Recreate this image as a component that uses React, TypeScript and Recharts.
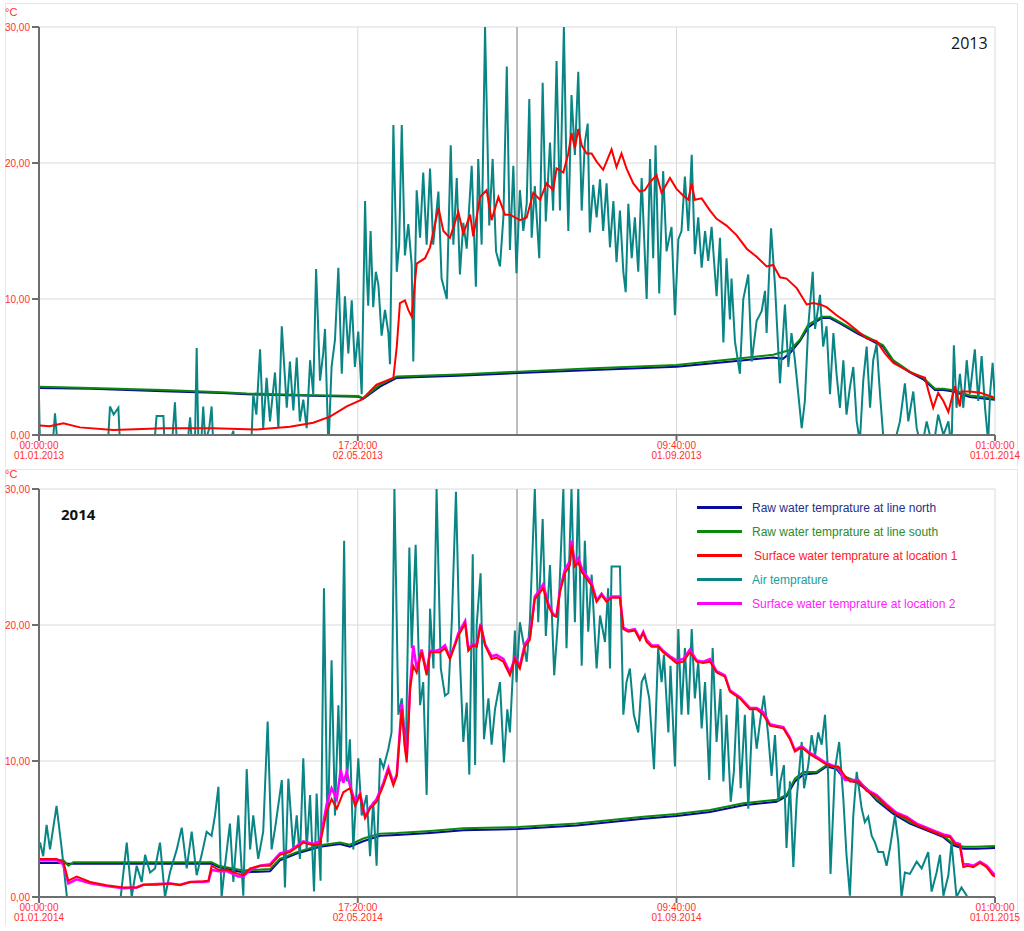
import React from "react";
import { LineChart, Line, XAxis, YAxis, CartesianGrid, ReferenceLine } from "recharts";

// ---- axes ----
const X_TICKS = [0, 121.72, 243.4, 365];
const MID_GRID = 182.5;
const Y_TICKS = [0, 10, 20, 30];
const xLabels2013 = [["00:00:00", "01.01.2013"], ["17:20:00", "02.05.2013"], ["09:40:00", "01.09.2013"], ["01:00:00", "01.01.2014"]];
const xLabels2014 = [["00:00:00", "01.01.2014"], ["17:20:00", "02.05.2014"], ["09:40:00", "01.09.2014"], ["01:00:00", "01.01.2015"]];

// ---- series names / colours ----
const seriesNames = [
  "Raw water temprature at line north",
  "Raw water temprature at line south",
  "Surface water temprature at location 1",
  "Air temprature",
  "Surface water temprature at location 2",
];

// ---- 2013 data: [day of year, °C] ----
const air2013 = [
  [0, 2.8], [0.4, -1], [3, -3], [5.5, 0], [6.1, 1.6], [6.8, 0], [8, -3], [12, -5], [18, -4], [24, -2], [26.5, 0], [27.1, 2.1], [28.5, 1.5], [30.3, 2.0], [31, -1], [36, -3], [40, -2], [44.3, 0], [44.9, 1.4], [47.5, 1.4], [48, -1], [51, 0], [51.9, 2.4], [52.6, -0.5], [55, -2], [57, 0], [57.7, 1.3], [58.5, -1], [59.6, 0], [60.2, 6.4], [60.9, -1], [62.1, 0], [62.7, 2.1], [63.5, -0.5], [65, 0.5], [65.9, 2.1], [66.6, -1], [70, -2], [74.2, 0.3], [75, -2], [79, -1], [81.2, 0], [81.8, 3], [83, 1.5], [84.4, 6.3], [85.6, 0.5], [86.9, 4.2], [88.2, 1], [90.1, 4.6], [91.4, 0.5], [92.7, 8], [94.6, 2], [95.8, 5.4], [97.1, 1.8], [98.4, 5.7], [99.6, 1], [100.9, 2.6], [102.2, 0.5], [103.5, 5.5], [104.7, 3], [105.8, 12.2], [107.3, 4], [108.5, 6], [109.2, 7.8], [110.5, -1], [111.7, 5], [113, 7], [114.3, 12.3], [115.6, 4.5], [116.8, 10.2], [118.1, 6], [119.4, 9.9], [120.6, 5], [121.9, 7.6], [123.2, 3], [124.5, 17.2], [125.1, 12], [125.7, 9.5], [126.6, 15], [127.6, 9.4], [128.6, 12], [129.6, 11], [130.8, 7.3], [132.1, 9.2], [133.4, 7.5], [134, 5.2], [135.3, 22.8], [136.6, 12], [137.5, 14], [138.5, 22.8], [139.7, 13.2], [141, 15.5], [142.3, 12.5], [142.9, 5.4], [144.2, 18], [145.5, 14.5], [146.7, 19.3], [148, 14], [149.3, 19.6], [150.5, 14], [152.5, 17.9], [153.7, 11.5], [155.7, 10], [157.2, 21.3], [158.2, 14], [159.5, 18.9], [160.7, 11.8], [162, 15.6], [163.3, 13.7], [165.2, 19.8], [166.8, 10.9], [167.7, 20.3], [169, 14], [170.3, 30], [171.9, 15.4], [173.2, 20.3], [174.5, 13.5], [176, 12.4], [177.3, 16], [178.6, 27.1], [179.8, 13.6], [181.1, 19.8], [182.3, 11.9], [183.6, 18], [184.9, 15], [186.2, 17], [187.2, 24.7], [188.1, 14.5], [189.3, 18.3], [191, 13], [192.3, 25.9], [193.5, 15.7], [195.1, 21.5], [196.3, 16.5], [197.6, 27.5], [198.9, 16.5], [199.5, 22], [200.4, 30], [201.2, 21.5], [202.1, 15], [203.3, 25], [204.6, 20.6], [205.9, 26.7], [207.2, 16.5], [208.4, 21.5], [209.5, 22.9], [210.3, 14.9], [211.6, 18.4], [212.9, 16], [214.2, 18.8], [215.4, 15], [216.7, 18.5], [218, 13.8], [219.3, 17.2], [220.5, 12.7], [221.8, 16.5], [223.1, 12], [224, 10.5], [225, 17], [226.3, 13], [227.5, 16], [228.8, 12], [230.1, 18.9], [232, 10], [233.3, 20.3], [234.5, 13], [235.4, 21.3], [236.8, 10.4], [238.3, 19.4], [239.6, 13.5], [241.5, 15.3], [242.8, 8.8], [244.1, 14.4], [245.3, 15], [246.6, 19], [247.9, 15], [249.2, 20.6], [250.4, 13.3], [251.7, 16], [253, 12.3], [254.3, 15], [255.5, 12.8], [256.8, 15.3], [258.7, 10.2], [260, 14.5], [261.3, 6.8], [262.5, 13], [263.8, 8.5], [264.4, 11.5], [265.7, 6.9], [267.6, 4.5], [268.9, 10], [270.8, 11.8], [272.1, 5.4], [274, 8.4], [275.9, 9.1], [277.2, 10.6], [277.8, 7.5], [279.5, 15.2], [281, 11], [282.9, 3.8], [284.8, 9.6], [286.1, 5], [287.3, 7.5], [288.6, 5.5], [289.9, 3], [291.2, 0.5], [292.4, 2.5], [293.7, 8], [295.4, 12], [296.3, 7.8], [298.2, 10.3], [299.4, 6.5], [300.7, 8], [302, 3], [303.3, 7.5], [304.5, 4.5], [305.8, 2], [307.1, 5.5], [308.3, 1.5], [309.6, 3.5], [310.9, 5], [312.2, 1], [313.4, -0.5], [314.7, 4], [316, 6.5], [317.3, 2], [318.5, 5.5], [319.8, 6.7], [321.1, 3], [322.3, 0], [323.6, -1], [326, -2], [327.4, 0], [328.7, 1], [330.6, 3.8], [331.9, 1], [333.8, 3.2], [335.1, 0.5], [337, -1], [338.9, 1], [341.4, -1], [343.3, 1.5], [345.3, 0], [347.2, 1], [348.4, -1], [349.3, 6.6], [350.3, 2], [351.6, 4.5], [352.9, 2], [354.2, 5.5], [355.4, 3], [357.3, 6.3], [358.6, 2.5], [359.9, 5.8], [361.2, 2], [362.4, -0.5], [363.1, 3], [364.1, 5.3], [365, 2.5],
];
const surf1_2013 = [
  [0, 0.7], [0.4, 0.7], [4, 0.65], [9.3, 0.86], [15.6, 0.56], [28.4, 0.37], [47.5, 0.5], [66.6, 0.5], [83.1, 0.4], [95.8, 0.6], [104.7, 0.9], [111.1, 1.35], [117.5, 2.1], [123.2, 2.6], [128.9, 3.7], [135.3, 4.2], [136.6, 6.5], [137.8, 9.7], [139.7, 9.9], [141, 9.2], [142.3, 8.7], [144.2, 12.6], [147.4, 13], [149.3, 13.8], [152.5, 16.7], [154.4, 15], [156.9, 14.5], [160.1, 16.4], [162, 14.8], [164.6, 16.2], [165.8, 14.6], [168.4, 17.5], [170.9, 18], [172.8, 15.8], [175.4, 17.5], [177.9, 16.2], [179.8, 16.2], [183.6, 15.8], [186.2, 16], [188.7, 17.8], [191.3, 17.3], [193.8, 18.5], [196.3, 18], [197.6, 19.6], [200.2, 19.3], [202.1, 20.7], [203.3, 22.2], [204.6, 21.1], [205.9, 22.5], [207.2, 21.3], [209.1, 20.7], [211, 20.7], [212.9, 20.1], [215.4, 19.5], [218.6, 21], [220.5, 19.7], [222.4, 20.7], [224.3, 19.6], [226.9, 18.5], [229.4, 17.9], [231.3, 18], [233.3, 18.6], [235.8, 19.1], [237.7, 17.8], [240.9, 18.9], [243.4, 18.1], [246, 17.6], [247.9, 17.3], [249.2, 18.5], [250.4, 17.3], [253, 17.4], [256.2, 16.5], [258.7, 15.9], [262.5, 15.4], [266.3, 14.7], [270.2, 13.7], [274, 13.1], [277.8, 12.4], [280.3, 12.5], [282.9, 11.6], [285.4, 11.5], [289.3, 10.8], [293.1, 9.6], [295.6, 9.7], [298.2, 9.6], [300.7, 9.4], [304.5, 8.8], [308.3, 8.3], [312.2, 7.7], [316, 7.1], [319.8, 6.9], [323, 6], [326.2, 5.3], [330, 4.9], [333.8, 4.5], [338.3, 4.2], [339.5, 3.3], [341.4, 2], [343.3, 3.1], [345.3, 2.5], [347.2, 1.7], [349.7, 3.6], [351.6, 2.1], [352.2, 3.2], [355.4, 3.2], [359.3, 3.1], [364.1, 2.8], [365, 2.7],
];
const south2013 = [
  [0, 3.55], [20, 3.45], [47.5, 3.3], [70, 3.15], [79.3, 3.06], [100, 2.95], [121.9, 2.87], [123.8, 2.7], [130.2, 3.7], [136.6, 4.3], [142.9, 4.34], [160, 4.45], [183, 4.66], [211.6, 4.9], [243.4, 5.15], [266.3, 5.6], [280.3, 5.9], [286.7, 6.25], [290.5, 7], [293.7, 8.1], [298.8, 8.7], [302, 8.7], [305.8, 8.3], [312.2, 7.6], [317.3, 7.1], [322.3, 6.6], [326.2, 5.5], [332.5, 4.66], [337.6, 4.2], [342.1, 3.4], [345.3, 3.4], [349.1, 3.3], [355.4, 2.9], [365, 2.7],
];
const north2013 = [
  [0, 3.45], [20, 3.4], [47.5, 3.22], [70, 3.08], [79.3, 3.0], [100, 2.9], [121.9, 2.82], [123.8, 2.65], [130.2, 3.55], [136.6, 4.2], [142.9, 4.25], [160, 4.35], [183, 4.55], [211.6, 4.78], [243.4, 5.02], [266.3, 5.45], [280.3, 5.7], [284, 5.6], [286.7, 6.0], [290.5, 6.9], [293.7, 7.9], [298.8, 8.6], [302, 8.6], [305.8, 8.2], [312.2, 7.5], [317.3, 7.0], [322.3, 6.5], [326.2, 5.4], [332.5, 4.6], [337.6, 4.1], [342.1, 3.3], [345.3, 3.3], [349.1, 3.2], [355.4, 2.8], [365, 2.6],
];

// ---- 2014 data: [day of year, °C] ----
const air2014 = [
  [0, 3.5], [0.4, 4], [1.6, 3], [2.9, 5.3], [4.2, 3.5], [6.7, 6.7], [8.7, 3.5], [10.6, 0.1], [13.1, -1], [19.5, -2], [25.8, -1], [30.9, -0.5], [33.5, 4], [35.4, 0], [37.3, 2.3], [39.2, 1.1], [40.5, 3.1], [42.4, 1.8], [44.3, 2.1], [46.2, 4], [48.1, 0], [50, 1.8], [52.6, 3.5], [54.5, 5.1], [56.4, 2.1], [58.3, 4.8], [60.2, 1.6], [62.1, 3.1], [64, 4.8], [65.9, 4.5], [67.2, 6], [68.5, 8.1], [69.7, 0], [71, 2.3], [72.9, 5.4], [74.2, 1.1], [76.1, 6], [78, 0.1], [79.3, 9.4], [80.6, 3.5], [81.8, 6], [83.7, 2.8], [85.6, 4.8], [87.3, 12.9], [88.8, 3.5], [90.1, 5], [92.7, 8.6], [93.9, 0.7], [95.2, 8.7], [97.1, 3.5], [98.4, 6], [99.6, 2.8], [100.9, 10.2], [102.2, 3.5], [103.5, 7.5], [105, 0.4], [106, 7.6], [107.5, 1.2], [108.8, 22.7], [110.2, 4], [111.7, 17.4], [113, 6], [114.3, 14.1], [115.2, 8.5], [116.5, 26.2], [117.5, 8.5], [118.7, 11.6], [120, 3.5], [121.9, 10.2], [123.2, 6], [125.1, 7.5], [126.4, 3], [127.6, 7], [128.9, 2.3], [130.2, 10.2], [131.5, 9.5], [133.4, 10.9], [134.6, 12.1], [135.7, 30], [137.2, 13.4], [138.5, 14.6], [140.1, 10.9], [141.4, 25.7], [142.3, 18.3], [143.8, 25.9], [145.5, 14.1], [146.7, 15.8], [148, 7.5], [149.3, 21.2], [150.6, 16.8], [151.8, 30], [153.4, 16.8], [155, 14.8], [156.3, 15], [157.6, 20.2], [159.2, 29.8], [160.7, 17.5], [162, 11.4], [163.3, 14.3], [164.3, 9], [165.6, 25.2], [166.5, 9.7], [167.1, 20], [168.6, 23.8], [169.9, 11.6], [171.6, 14.6], [172.8, 11.2], [174.1, 13.8], [176, 15.8], [177.5, 9.9], [178.8, 13.8], [179.8, 12.1], [181.7, 19.6], [182.3, 15.8], [183.6, 20.2], [184.9, 18.75], [186.2, 17.3], [187.4, 20.2], [189.3, 30], [190.6, 20.2], [192.3, 27.8], [193.5, 19.2], [195.1, 24.4], [196.7, 16.3], [198.3, 20.7], [200.2, 30], [201.4, 18.3], [203.3, 30], [204.6, 20.2], [205.9, 30], [207.2, 17], [208.4, 26.2], [209.7, 19.5], [211, 23.7], [212.9, 16.8], [214.2, 20.7], [216.1, 18.75], [217.3, 22.7], [218, 16.8], [218.6, 24.3], [221.8, 24.3], [223.1, 13.4], [224.3, 15.8], [225.6, 16.8], [227.1, 13.4], [228.8, 12.1], [230.1, 15.8], [231.3, 16.3], [233, 14.6], [234.8, 9.4], [236.4, 18.3], [237.7, 15.8], [238.6, 17.8], [240.3, 12.1], [241.1, 17], [242.8, 9.6], [244.1, 19.7], [245.3, 13.4], [246.6, 18.3], [247.9, 13.4], [249.2, 19.7], [250.4, 14.6], [251.7, 17.3], [253, 12.4], [254.3, 15.8], [255.9, 8.6], [257.2, 18.3], [258.7, 11.4], [260.2, 15.3], [261.3, 8.5], [262.5, 13.4], [264.1, 7], [265.3, 9.2], [266.6, 14.8], [267.9, 8], [269.5, 13.4], [270.8, 6.5], [272.5, 13.8], [274, 10.9], [275.3, 12.9], [276.8, 14.8], [278.4, 11.9], [279.7, 8.9], [281, 11.9], [282.3, 7], [283.1, 8.5], [284.4, 9.7], [285.4, 3.6], [286.7, 8.5], [288, 2.2], [289.3, 7.2], [291.2, 11.4], [292.1, 8], [293.7, 9.7], [295, 11.9], [296.3, 10.4], [297.5, 12.1], [298.8, 11.2], [300.1, 13.4], [301.3, 8.9], [302.2, 1.7], [303.9, 9.4], [305.5, 11.4], [307.1, 7.2], [308.3, 3.1], [309.6, 0.1], [310.9, 6], [312.2, 9.2], [314.1, 6.5], [315.3, 5.5], [316.6, 5.9], [317.9, 4.5], [319.2, 4], [320.4, 3.3], [322.3, 3.3], [323.6, 2.3], [324.9, 3.6], [326.8, 6], [328.1, 4], [329.3, 0], [330.6, 1.8], [332.5, 1.7], [335.1, 2.6], [337, 2.1], [339.5, 3.3], [340.8, 0.4], [342.7, 1.8], [344, 3.1], [345.3, 0.1], [347.2, 1.6], [348.4, 4], [350.3, 0], [352.2, 0.7], [354.2, 0.1], [356.1, -1], [364.1, -2], [365, -2],
];
const surf1_2014 = [
  [0, 2.8], [0.4, 2.8], [6.7, 2.8], [9.3, 2.6], [11.2, 1.2], [14.4, 1.5], [19.5, 1.1], [25.8, 0.86], [32.2, 0.7], [37.3, 0.7], [39.8, 0.9], [44.9, 0.9], [50, 1], [53.8, 0.86], [57.7, 1.1], [62.7, 1.15], [64.7, 1.2], [65.9, 2.3], [68.5, 2], [71.7, 2], [76.1, 1.7], [78, 1.6], [80.6, 2.1], [84.4, 2.3], [88.2, 2.3], [92, 3.1], [95.8, 3.3], [100.9, 4], [104.7, 3.8], [107.3, 3.9], [109.8, 6.25], [111.7, 7.2], [113.7, 6.5], [116.2, 7.7], [118.7, 8], [120.7, 6.7], [122.6, 7.5], [124.5, 5.8], [126.4, 6.5], [128.9, 7], [131.5, 8.2], [133.4, 9.3], [135.3, 8.2], [136.6, 8.9], [138.5, 13.8], [139.7, 10.9], [140.4, 9.9], [141.7, 15.3], [142.9, 17], [144.2, 16.5], [146.1, 18], [148, 16.3], [149.3, 18], [151.2, 18], [153.1, 18], [155, 18.3], [156.9, 17.5], [158.8, 18.5], [160.1, 19.2], [162.7, 20.1], [163.9, 18.1], [165.8, 18.5], [167.1, 18.4], [168.6, 20], [170.3, 18.5], [172.8, 17.5], [174.7, 17.6], [177.3, 17.3], [179.8, 16.3], [181.7, 17.5], [183.6, 16.8], [185.5, 18.4], [187.4, 18.9], [189.3, 21.9], [191.3, 22.4], [192.5, 22.7], [194.4, 21.4], [196.3, 20.7], [197.6, 20.6], [198.9, 22.4], [200.8, 23.8], [202.7, 24.4], [203.3, 25.9], [204.6, 24.3], [205.9, 24.6], [207.2, 23.9], [209.1, 23.4], [211, 22.9], [212.9, 21.7], [214.8, 22.2], [216.7, 21.7], [218.6, 22], [221.8, 22], [223.1, 19.7], [225, 19.5], [227.5, 19.6], [229.4, 18.9], [230.7, 19.4], [232, 18.75], [233.9, 18.4], [236.4, 18.4], [238.3, 18], [240.9, 17.6], [243.4, 17.2], [246, 17.3], [248.5, 18], [251.1, 17.3], [253.6, 17.2], [256.2, 17.3], [258.7, 16.5], [261.9, 16.2], [263.8, 15.1], [267.6, 14.6], [271.4, 13.8], [274, 13.8], [276.5, 13.4], [279.1, 12.6], [281.6, 12.5], [284.2, 12.4], [286.7, 11.6], [288.6, 10.7], [291.2, 11], [294.3, 10.5], [296.9, 10.2], [300.1, 9.8], [302.6, 9.6], [305.2, 9.6], [307.7, 8.9], [309.6, 8.5], [312.8, 8.5], [316, 7.8], [319.8, 7.4], [323.6, 6.7], [327.4, 6.1], [331.3, 5.8], [335.1, 5.3], [338.9, 5], [341.4, 4.8], [345.3, 4.5], [347.8, 4.4], [349.7, 3.9], [351.6, 3.8], [352.9, 2.2], [354.8, 2.3], [356.7, 2.2], [359.3, 2.5], [361.8, 2.2], [364.1, 1.6], [365, 1.5],
];
const surf2_2014 = [
  [0, 2.7], [0.4, 2.7], [6.7, 2.7], [9.3, 2.4], [11.2, 1.0], [14.4, 1.3], [19.5, 1.0], [25.8, 0.8], [32.2, 0.65], [37.3, 0.7], [39.8, 0.9], [44.9, 0.95], [50, 1.0], [53.8, 0.9], [57.7, 1.1], [62.7, 1.1], [64.7, 1.15], [65.9, 2.0], [68.5, 1.9], [71.7, 1.9], [76.1, 1.5], [78, 1.5], [80.6, 2.0], [84.4, 2.3], [88.2, 2.4], [92, 3.2], [95.8, 3.4], [100.9, 4.1], [104.7, 3.9], [107.3, 4.1], [109.8, 6.8], [111.7, 8.0], [113.7, 7.2], [115.2, 9.4], [116.2, 8.4], [117.5, 9.2], [118.7, 8.2], [120.7, 7.0], [122.6, 7.6], [124.5, 5.9], [126.4, 6.6], [128.9, 7.2], [131.5, 8.4], [133.4, 9.5], [135.3, 8.4], [136.6, 9.0], [138.5, 14.2], [139.7, 11.2], [140.4, 10.3], [141.7, 15.6], [142.9, 18.5], [144.2, 16.8], [146.1, 18.2], [148, 16.5], [149.3, 18.1], [151.2, 18.1], [153.1, 18.2], [155, 18.5], [156.9, 17.6], [158.8, 18.6], [160.1, 19.4], [162.7, 20.3], [163.9, 18.3], [165.8, 18.6], [167.1, 18.5], [168.6, 20.1], [170.3, 18.6], [172.8, 17.7], [174.7, 17.8], [177.3, 17.5], [179.8, 16.5], [181.7, 17.6], [183.6, 17], [185.5, 18.6], [187.4, 19.1], [189.3, 22.1], [191.3, 22.6], [192.5, 23], [194.4, 21.6], [196.3, 20.8], [197.6, 20.7], [198.9, 22.6], [200.8, 24.1], [202.7, 24.7], [203.3, 26.2], [204.6, 24.5], [205.9, 24.9], [207.2, 24.2], [209.1, 23.6], [211, 23.1], [212.9, 21.8], [214.8, 22.3], [216.7, 21.8], [218.6, 22.1], [221.8, 22.1], [223.1, 19.8], [225, 19.6], [227.5, 19.7], [229.4, 19], [230.7, 19.5], [232, 18.9], [233.9, 18.5], [236.4, 18.5], [238.3, 18.1], [240.9, 17.7], [243.4, 17.4], [246, 17.5], [248.5, 18.2], [251.1, 17.4], [253.6, 17.3], [256.2, 17.5], [258.7, 16.6], [261.9, 16.3], [263.8, 15.2], [267.6, 14.7], [271.4, 13.9], [274, 13.9], [276.5, 13.6], [279.1, 12.7], [281.6, 12.6], [284.2, 12.5], [286.7, 11.7], [288.6, 10.8], [291.2, 11.1], [294.3, 10.6], [296.9, 10.3], [300.1, 9.9], [302.6, 9.7], [305.2, 9.5], [307.7, 8.6], [309.6, 8.6], [312.8, 8.6], [316, 7.9], [319.8, 7.5], [323.6, 6.8], [327.4, 6.2], [331.3, 5.9], [335.1, 5.4], [338.9, 5.1], [341.4, 4.9], [345.3, 4.6], [347.8, 4.5], [349.7, 4], [351.6, 3.9], [352.9, 2.4], [354.8, 2.4], [356.7, 2.3], [359.3, 2.6], [361.8, 2.3], [364.1, 1.8], [365, 1.6],
];
const south2014 = [
  [0, 2.7], [9.3, 2.7], [11.2, 2.3], [13.1, 2.55], [65.9, 2.55], [68.5, 2.3], [78, 1.95], [88.2, 2.05], [92, 2.8], [98.4, 3.3], [107.3, 3.8], [114.9, 4], [118.7, 3.85], [123.8, 4.3], [130.2, 4.66], [136.6, 4.7], [149.3, 4.85], [162, 5.05], [183, 5.15], [205.3, 5.4], [230.7, 5.9], [243.4, 6.1], [256.2, 6.4], [268.9, 6.9], [281.6, 7.15], [285.4, 7.5], [288.6, 8.7], [291.8, 9.2], [296.9, 9.2], [300.7, 9.7], [304.5, 9.5], [307.1, 8.9], [312.2, 8.5], [316, 8], [319.8, 7.2], [326.2, 6.25], [332.5, 5.5], [338.9, 5], [345.3, 4.5], [349.1, 3.9], [353, 3.7], [358, 3.7], [365, 3.75],
];
const north2014 = [
  [0, 2.5], [9.3, 2.5], [11.2, 2.45], [13.1, 2.45], [65.9, 2.45], [68.5, 2.2], [78, 1.8], [88.2, 1.9], [92, 2.7], [98.4, 3.2], [107.3, 3.7], [114.9, 3.9], [118.7, 3.7], [123.8, 4.1], [130.2, 4.5], [136.6, 4.55], [149.3, 4.7], [162, 4.9], [183, 5.0], [205.3, 5.25], [230.7, 5.75], [243.4, 5.95], [256.2, 6.25], [268.9, 6.75], [281.6, 7.0], [285.4, 7.4], [288.6, 8.5], [291.8, 9.0], [296.9, 9.1], [300.7, 9.6], [304.5, 9.4], [307.1, 8.8], [312.2, 8.4], [316, 7.9], [319.8, 7.1], [326.2, 6.1], [332.5, 5.4], [338.9, 4.9], [345.3, 4.4], [349.1, 3.8], [353, 3.55], [358, 3.55], [365, 3.6],
];

const LINE_COLORS = ["#0a0a9a", "#0a8a0a", "#ff0000", "#0a8585", "#ff00ff"];
const TEXT_COLORS = ["#22308c", "#2a8c2a", "#ff2222", "#16a0a0", "#ff22ff"];
const AXIS_RED = "#ff3030";
const AXIS_GRAY = "#6e6e6e";
const FONT = "'Liberation Sans', Arial, sans-serif";

const toPts = (a: number[][]) => a.map(([d, v]) => ({ d, v }));

const makeTick = (labels: string[][]) => (props: any) => {
  const { x, y, payload } = props;
  const i = X_TICKS.indexOf(payload.value);
  if (i < 0) return null;
  return (
    <text x={x} y={y} textAnchor="middle" fill={AXIS_RED} fontSize={10} fontFamily={FONT}>
      <tspan x={x} dy={6}>{labels[i][0]}</tspan>
      <tspan x={x} dy={9.5}>{labels[i][1]}</tspan>
    </text>
  );
};

const LegendBox = () => (
  <div style={{ position: "absolute", left: 697, top: 498, width: 300, fontFamily: FONT, fontSize: 12 }}>
    {seriesNames.map((n, i) => (
      <div key={n} style={{ position: "relative", height: 24, whiteSpace: "nowrap" }}>
        <div style={{ position: "absolute", left: 0, top: 8, width: 45, height: 3, background: LINE_COLORS[i] }} />
        <span style={{ position: "absolute", left: i === 2 ? 57 : 55, top: 3, color: TEXT_COLORS[i] }}>{n}</span>
      </div>
    ))}
  </div>
);

type PanelProps = {
  air: number[][];
  north: number[][];
  south: number[][];
  surf1: number[][];
  surf2?: number[][];
  labels: string[][];
};

const Panel = ({ air, north, south, surf1, surf2, labels }: PanelProps) => (
  <LineChart width={1024} height={465} margin={{ top: 27, right: 29, left: 0, bottom: 0 }}>
    <CartesianGrid stroke="#dadada" strokeWidth={1} horizontal vertical />
    <ReferenceLine x={MID_GRID} stroke="#bdbdbd" strokeWidth={2} />
    <XAxis
      type="number"
      dataKey="d"
      domain={[0, 365]}
      ticks={X_TICKS}
      allowDataOverflow
      height={30}
      tickSize={6}
      tickMargin={2}
      stroke={AXIS_GRAY}
      axisLine={{ stroke: AXIS_GRAY, strokeWidth: 2 }}
      tickLine={{ stroke: AXIS_GRAY, strokeWidth: 2 }}
      tick={makeTick(labels)}
      interval={0}
    />
    <YAxis
      type="number"
      domain={[0, 30]}
      ticks={Y_TICKS}
      allowDataOverflow
      width={39}
      tickSize={7}
      tickMargin={2}
      axisLine={{ stroke: AXIS_GRAY, strokeWidth: 2 }}
      tickLine={{ stroke: AXIS_GRAY, strokeWidth: 2 }}
      tick={{ fill: AXIS_RED, fontSize: 10, fontFamily: FONT }}
      tickFormatter={(v: number) => v.toFixed(2).replace(".", ",")}
    />
    <Line data={toPts(north)} dataKey="v" name={seriesNames[0]} stroke={LINE_COLORS[0]} strokeWidth={2} dot={false} activeDot={false} isAnimationActive={false} type="linear" />
    <Line data={toPts(south)} dataKey="v" name={seriesNames[1]} stroke={LINE_COLORS[1]} strokeWidth={2} dot={false} activeDot={false} isAnimationActive={false} type="linear" />
    <Line data={toPts(air)} dataKey="v" name={seriesNames[3]} stroke={LINE_COLORS[3]} strokeWidth={2} dot={false} activeDot={false} isAnimationActive={false} type="linear" />
    {surf2 && (
      <Line data={toPts(surf2)} dataKey="v" name={seriesNames[4]} stroke={LINE_COLORS[4]} strokeWidth={2.5} dot={false} activeDot={false} isAnimationActive={false} type="linear" />
    )}
    <Line data={toPts(surf1)} dataKey="v" name={seriesNames[2]} stroke={LINE_COLORS[2]} strokeWidth={2} dot={false} activeDot={false} isAnimationActive={false} type="linear" />
  </LineChart>
);

const box = (top: number, height: number): React.CSSProperties => ({
  position: "absolute",
  left: 5,
  top,
  width: 1013,
  height,
  borderLeft: "1px solid #e6e6e6",
  borderRight: "1px solid #e6e6e6",
  borderTop: "1px solid #e6e6e6",
  boxSizing: "border-box",
});

export default function App() {
  return (
    <div style={{ position: "absolute", left: 0, top: 0, width: 1024, height: 931, background: "#fff", overflow: "hidden", fontFamily: FONT }}>
      <div style={box(3, 464)} />
      <div style={box(469, 456)} />
      <div style={{ position: "absolute", left: 0, top: 0 }}>
        <Panel air={air2013} north={north2013} south={south2013} surf1={surf1_2013} labels={xLabels2013} />
      </div>
      <div style={{ position: "absolute", left: 0, top: 462 }}>
        <Panel air={air2014} north={north2014} south={south2014} surf1={surf1_2014} surf2={surf2_2014} labels={xLabels2014} />
      </div>
      <LegendBox />
      <div style={{ position: "absolute", left: 5, top: 6, fontSize: 11, color: AXIS_RED }}>°C</div>
      <div style={{ position: "absolute", left: 5, top: 468, fontSize: 11, color: AXIS_RED }}>°C</div>
      <div style={{ position: "absolute", left: 951, top: 32, fontSize: 16, color: "#111", fontFamily: "'Open Sans', sans-serif" }}>2013</div>
      <div style={{ position: "absolute", left: 61, top: 504, fontSize: 15, fontWeight: 700, color: "#111", fontFamily: "'Open Sans', sans-serif" }}>2014</div>
    </div>
  );
}
